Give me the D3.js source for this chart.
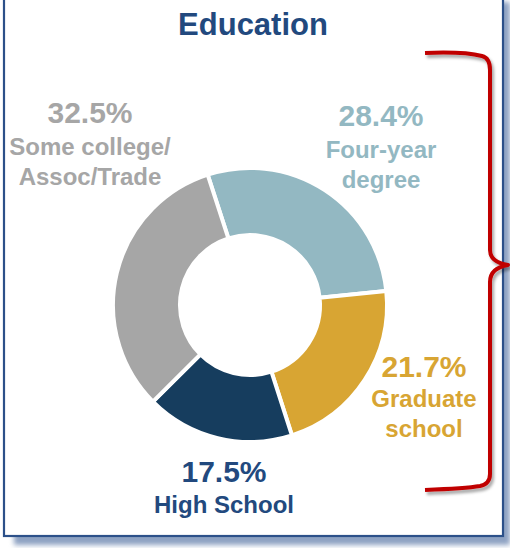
<!DOCTYPE html>
<html><head><meta charset="utf-8">
<script src="https://cdn.jsdelivr.net/npm/d3@7"></script>
<style>html,body{margin:0;padding:0;background:#fff;}svg{display:block;}</style>
</head><body>
<div id="chart"></div>
<script>
// ---- data ----
const categories = ["Four-year degree", "Graduate school", "High School", "Some college/Assoc/Trade"];
const values = [28.4, 21.7, 17.5, 32.5];
const pctLabels = ["28.4%", "21.7%", "17.5%", "32.5%"];
const nameLines = [["Four-year", "degree"], ["Graduate", "school"], ["High School"], ["Some college/", "Assoc/Trade"]];
const title = "Education";

// ---- layout / style ----
const W = 510, H = 548;
const sliceColors = ["#93B8C2", "#D8A533", "#163D5E", "#A6A6A6"];
const textColors = ["#93B8C2", "#D8A533", "#22497E", "#A6A6A6"];
const labelPos = [
  {x: 381, y: 126, dy: [158, 188]},
  {x: 424, y: 377, dy: [407, 437]},
  {x: 224, y: 482, dy: [513]},
  {x: 90,  y: 123, dy: [155, 185]}
];
const cx = 250, cy = 305;

const svg = d3.select("#chart").append("svg").attr("width", W).attr("height", H)
  .style("font-family", "'Liberation Sans', Arial, sans-serif");

const defs = svg.append("defs");
const fs = defs.append("filter").attr("id", "fshadow").attr("x", "-10%").attr("y", "-10%").attr("width", "130%").attr("height", "130%");
fs.append("feGaussianBlur").attr("stdDeviation", 2.5);
const bs = defs.append("filter").attr("id", "bshadow").attr("x", "-20%").attr("y", "-20%").attr("width", "140%").attr("height", "140%");
bs.append("feDropShadow").attr("dx", 2).attr("dy", 3).attr("stdDeviation", 1.5)
  .attr("flood-color", "#000").attr("flood-opacity", 0.35);

// frame shadow + frame
svg.append("rect").attr("x", 14).attr("y", 2).attr("width", 496).attr("height", 543)
  .attr("fill", "#8ea2c2").attr("filter", "url(#fshadow)");
svg.append("rect").attr("x", 4).attr("y", -4).attr("width", 499).attr("height", 540)
  .attr("fill", "#fff").attr("stroke", "#2c5089").attr("stroke-width", 2.2);

// title
svg.append("text").attr("x", 253).attr("y", 35).attr("text-anchor", "middle")
  .attr("font-size", 31).attr("font-weight", "bold").attr("fill", "#22497E").text(title);

// donut
const pie = d3.pie().sort(null).value(d => d).startAngle(-18 * Math.PI / 180).endAngle(2 * Math.PI - 18 * Math.PI / 180);
const arc = d3.arc().innerRadius(70).outerRadius(137);
const g = svg.append("g").attr("transform", `translate(${cx},${cy})`);
g.selectAll("path").data(pie(values)).join("path")
  .attr("d", arc).attr("fill", (d, i) => sliceColors[i])
  .attr("stroke", "#fff").attr("stroke-width", 4).attr("stroke-linejoin", "miter");

// labels
categories.forEach((c, i) => {
  const p = labelPos[i];
  svg.append("text").attr("x", p.x).attr("y", p.y).attr("text-anchor", "middle")
    .attr("font-size", 30).attr("font-weight", "bold").attr("fill", textColors[i]).text(pctLabels[i]);
  nameLines[i].forEach((ln, j) => {
    svg.append("text").attr("x", p.x).attr("y", p.dy[j]).attr("text-anchor", "middle")
      .attr("font-size", 24).attr("font-weight", "bold").attr("fill", textColors[i]).text(ln);
  });
});

// brace
const brace = "M425,53 C450,52 470,53 482,56 Q490,58 490,70 L490,250 Q490,262 508,265 Q490,268 490,282 L490,474 Q490,484 480,486 C468,488 450,489 425,490";
svg.append("path").attr("d", brace).attr("fill", "none").attr("stroke", "#C00000")
  .attr("stroke-width", 4).attr("stroke-linejoin", "round").attr("filter", "url(#bshadow)");
</script>
</body></html>
